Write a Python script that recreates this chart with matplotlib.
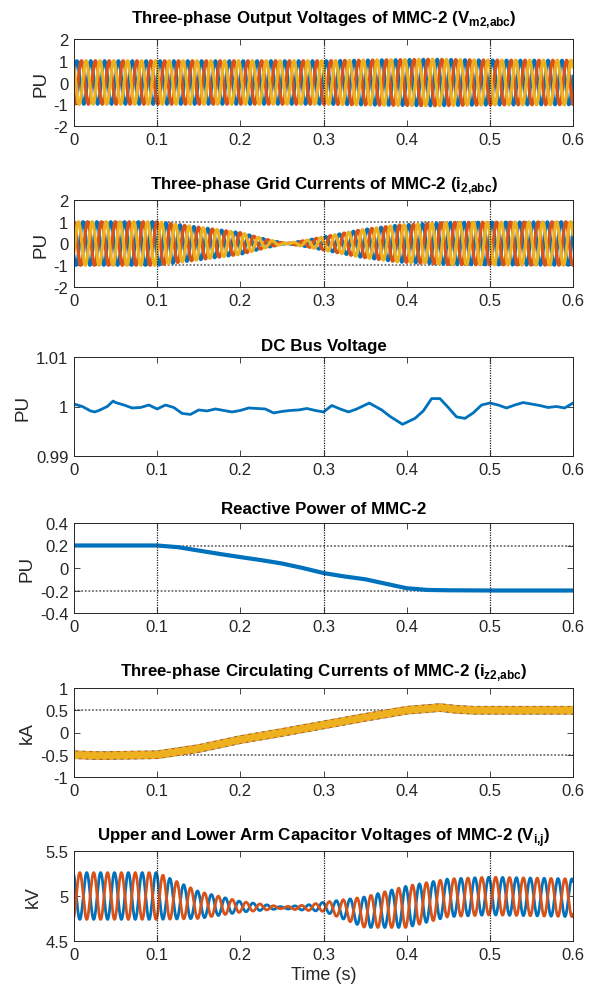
import matplotlib
matplotlib.use('Agg')
import matplotlib.pyplot as plt
import numpy as np

# ---- data (knot values; 60 Hz carrier for the ac waveforms) ----
FREQ_HZ = 60.0
T_END = 0.6

# panel 1: output voltage amplitude (PU)
vm_amp_t = [0.0, 0.30, 0.35, 0.43, 0.50, 0.60]
vm_amp = [1.0, 1.0, 1.03, 1.07, 1.03, 1.02]

# panel 2: grid current signed envelope (PU)
ig_env_t = [0.0, 0.10, 0.15, 0.20, 0.23, 0.255, 0.28, 0.30, 0.345, 0.39, 0.45, 0.60]
ig_env = [1.0, 1.0, 0.75, 0.50, 0.20, 0.0, -0.15, -0.30, -0.63, -0.85, -0.97, -1.0]

# panel 3: dc bus voltage (PU)
vdc_t = [0.0, 0.01, 0.02, 0.025, 0.03, 0.04, 0.047, 0.05, 0.06, 0.07, 0.08, 0.09,
         0.10, 0.11, 0.12, 0.13, 0.14, 0.15, 0.16, 0.17, 0.18, 0.19, 0.20, 0.21,
         0.22, 0.23, 0.24, 0.25, 0.26, 0.27, 0.28, 0.29, 0.30, 0.31, 0.32, 0.33,
         0.34, 0.355, 0.37, 0.38, 0.395, 0.41, 0.42, 0.43, 0.44, 0.45, 0.46, 0.47,
         0.48, 0.49, 0.50, 0.51, 0.52, 0.53, 0.54, 0.55, 0.56, 0.57, 0.58, 0.59, 0.60]
vdc = [1.0005, 1.0, 0.9991, 0.9989, 0.9992, 1.0, 1.0011, 1.0008, 1.0003, 0.9997, 0.9998, 1.0003,
       0.9995, 1.0003, 0.9998, 0.9986, 0.9984, 0.9993, 0.9991, 0.9995, 0.9992, 0.9989, 0.9992, 0.9997,
       0.9996, 0.9995, 0.9987, 0.9990, 0.9992, 0.9993, 0.9996, 0.9992, 0.9989, 1.0002, 0.9995, 0.9989,
       0.9995, 1.0007, 0.9993, 0.9980, 0.9964, 0.9976, 0.9991, 1.0016, 1.0016, 0.9998, 0.9979, 0.9976,
       0.9987, 1.0003, 1.0007, 1.0003, 0.9997, 1.0003, 1.0008, 1.0005, 1.0002, 0.9998, 1.0, 0.9997, 1.0007]

# panel 4: reactive power (PU)
q_t = [0.0, 0.10, 0.125, 0.15, 0.175, 0.20, 0.225, 0.25, 0.275, 0.30, 0.325, 0.35,
       0.375, 0.40, 0.425, 0.45, 0.50, 0.55, 0.60]
q = [0.2, 0.2, 0.185, 0.155, 0.125, 0.097, 0.07, 0.04, 0.0, -0.045, -0.075, -0.10,
     -0.14, -0.18, -0.195, -0.198, -0.2, -0.2, -0.2]

# panel 5: circulating current dc level (kA)
iz_t = [0.0, 0.03, 0.10, 0.15, 0.20, 0.25, 0.30, 0.35, 0.40, 0.44, 0.46, 0.48, 0.60]
iz = [-0.5, -0.52, -0.5, -0.36, -0.16, 0.0, 0.17, 0.34, 0.5, 0.56, 0.52, 0.5, 0.5]
iz_ripple = 0.03

# panel 6: arm capacitor voltage centre and ripple amplitude (kV)
vc_t = [0.0, 0.10, 0.15, 0.20, 0.25, 0.28, 0.30, 0.35, 0.40, 0.45, 0.50, 0.60]
vc_center = [5.0, 5.0, 4.90, 4.88, 4.87, 4.87, 4.88, 4.82, 4.88, 4.98, 5.0, 4.98]
vc_amp = [0.26, 0.26, 0.15, 0.06, 0.01, 0.03, 0.05, 0.17, 0.23, 0.21, 0.21, 0.21]

x_ticks = [0, 0.1, 0.2, 0.3, 0.4, 0.5, 0.6]
x_labels = ['0', '0.1', '0.2', '0.3', '0.4', '0.5', '0.6']

C_BLUE, C_ORANGE, C_YELLOW = '#0072BD', '#D95319', '#EDB120'
TXT = '#262626'

plt.rcParams['font.family'] = ['Liberation Sans', 'DejaVu Sans']
plt.rcParams['axes.unicode_minus'] = False
plt.rcParams['mathtext.fontset'] = 'custom'
plt.rcParams['mathtext.bf'] = 'Liberation Sans:bold'
plt.rcParams['mathtext.rm'] = 'Liberation Sans'

W, H = 595, 987
fig = plt.figure(figsize=(W / 100, H / 100), dpi=100)

# (top, bottom, title baseline) in pixels
rows = [(40, 127, 23), (201, 288, 189), (358, 457, 351),
        (524, 614, 514), (689, 778, 676), (852, 942, 841)]
LEFT, RIGHT = 74, 573

t = np.linspace(0, T_END, 24000)
w = 2 * np.pi * FREQ_HZ
ph = [0.0, -2 * np.pi / 3, 2 * np.pi / 3]


def make_ax(i, title):
    top, bot, base = rows[i]
    ax = fig.add_axes([LEFT / W, 1 - bot / H, (RIGHT - LEFT) / W, (bot - top) / H])
    ax.set_xlim(0, T_END)
    ax.set_xticks(x_ticks)
    ax.set_xticklabels(x_labels)
    ax.tick_params(direction='in', top=True, right=True, length=4, width=0.6,
                   labelsize=12, colors=TXT, pad=4)
    for s in ax.spines.values():
        s.set_color(TXT)
        s.set_linewidth(0.7)
        s.set_zorder(5)
    fig.text((LEFT + RIGHT) / 2 / W, 1 - base / H, title, ha='center', va='baseline',
             fontsize=12.2, fontweight='bold', color='black')
    return ax


def vlines(ax, xs):
    for x in xs:
        ax.axvline(x, color='#222222', ls=(0, (1, 1)), lw=0.9, zorder=3)


def hlines(ax, ys):
    for y in ys:
        ax.axhline(y, color='#707070', ls=(0, (1, 1)), lw=1.3, zorder=1)


# 1 output voltages
ax = make_ax(0, r'Three-phase Output Voltages of MMC-2 (V$_{\mathbf{m2{,}abc}}$)')
a = np.interp(t, vm_amp_t, vm_amp)
for k, c in enumerate([C_BLUE, C_ORANGE, C_YELLOW]):
    ax.plot(t, a * np.sin(w * t + 0.28 + ph[k]), color=c, lw=2.3, zorder=2)
vlines(ax, [0.1, 0.3, 0.5])
ax.set_ylim(-2, 2)
ax.set_yticks([-2, -1, 0, 1, 2])
ax.set_ylabel('PU', fontsize=13.5, color=TXT, labelpad=3)

# 2 grid currents
ax = make_ax(1, r'Three-phase Grid Currents of MMC-2 (i$_{\mathbf{2{,}abc}}$)')
a = np.interp(t, ig_env_t, ig_env)
for k, c in enumerate([C_BLUE, C_ORANGE, C_YELLOW]):
    ax.plot(t, a * np.cos(w * t + 0.1 + ph[k] + 2 * np.pi / 3), color=c, lw=2.3, zorder=2)
hlines(ax, [-1, 1])
vlines(ax, [0.1, 0.3, 0.5])
ax.set_ylim(-2, 2)
ax.set_yticks([-2, -1, 0, 1, 2])
ax.set_ylabel('PU', fontsize=13.5, color=TXT, labelpad=3)

# 3 dc bus voltage
ax = make_ax(2, 'DC Bus Voltage')
ax.plot(vdc_t, vdc, color=C_BLUE, lw=2.0, zorder=2)
vlines(ax, [0.3, 0.5])
ax.set_ylim(0.99, 1.01)
ax.set_yticks([0.99, 1.0, 1.01])
ax.set_yticklabels(['0.99', '1', '1.01'])
ax.set_ylabel('PU', fontsize=13.5, color=TXT, labelpad=3)

# 4 reactive power
ax = make_ax(3, 'Reactive Power of MMC-2')
ax.plot(q_t, q, color=C_BLUE, lw=3.0, zorder=2)
hlines(ax, [-0.2, 0.2])
vlines(ax, [0.1, 0.3, 0.5])
ax.set_ylim(-0.4, 0.4)
ax.set_yticks([-0.4, -0.2, 0, 0.2, 0.4])
ax.set_yticklabels(['-0.4', '-0.2', '0', '0.2', '0.4'])
ax.set_ylabel('PU', fontsize=13.5, color=TXT, labelpad=3)

# 5 circulating currents
ax = make_ax(4, r'Three-phase Circulating Currents of MMC-2 (i$_{\mathbf{z2{,}abc}}$)')
dc = np.interp(t, iz_t, iz)
for k, c in enumerate([C_BLUE, C_ORANGE, C_YELLOW]):
    ax.plot(t, dc + iz_ripple * np.sin(2 * w * t + ph[k]), color=c, lw=4.5, zorder=2)
hlines(ax, [-0.5, 0.5])
ax.set_ylim(-1, 1)
ax.set_yticks([-1, -0.5, 0, 0.5, 1])
ax.set_yticklabels(['-1', '-0.5', '0', '0.5', '1'])
ax.set_ylabel('kA', fontsize=13.5, color=TXT, labelpad=3)

# 6 arm capacitor voltages
ax = make_ax(5, r'Upper and Lower Arm Capacitor Voltages of MMC-2 (V$_{\mathbf{i{,}j}}$)')
cen = np.interp(t, vc_t, vc_center)
amp = np.interp(t, vc_t, vc_amp)
ax.plot(t, cen + amp * np.cos(w * t + 0.5), color=C_BLUE, lw=2.0, zorder=2)
ax.plot(t, cen - amp * np.cos(w * t + 0.5), color=C_ORANGE, lw=2.0, zorder=2)
vlines(ax, [0.1, 0.3, 0.5])
ax.set_ylim(4.5, 5.5)
ax.set_yticks([4.5, 5, 5.5])
ax.set_yticklabels(['4.5', '5', '5.5'])
ax.set_ylabel('kV', fontsize=13.5, color=TXT, labelpad=3)
ax.set_xlabel('Time (s)', fontsize=13, color=TXT, labelpad=3)

fig.savefig('out.png', dpi=100)
